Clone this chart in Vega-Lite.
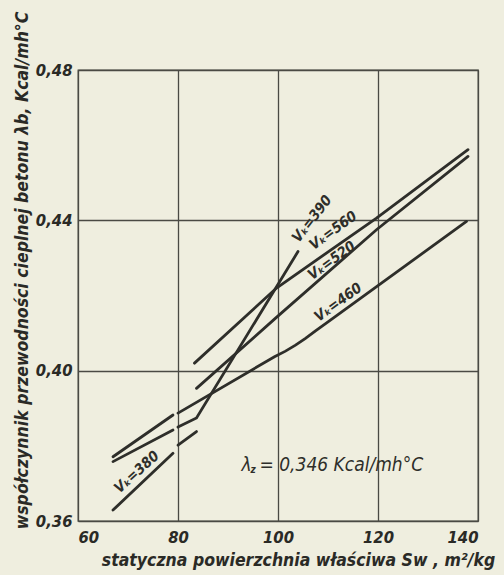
{
  "$schema": "https://vega.github.io/schema/vega-lite/v6.json",
  "autosize": {"type": "none"},
  "padding": {"left": 78, "top": 70, "right": 26, "bottom": 54},
  "width": 400,
  "height": 451,
  "background": "#efeedf",
  "config": {
    "view": {"stroke": "#4a4a44", "strokeWidth": 1.3},
    "font": "DejaVu Sans Condensed",
    "axis": {
      "labelFont": "DejaVu Sans Condensed", "labelFontStyle": "italic", "labelFontWeight": "bold", "labelFontSize": 16.5, "labelColor": "#2a2a26",
      "titleFont": "DejaVu Sans Condensed", "titleFontStyle": "italic", "titleFontWeight": "bold", "titleColor": "#2a2a26",
      "gridColor": "#4a4a44", "gridOpacity": 1, "gridWidth": 1.3, "ticks": false, "domain": false
    }
  },
  "datasets": {
    "curves": [
      {"seg": "460a", "x": 67.0, "y": 0.3771}, {"seg": "460a", "x": 79.0, "y": 0.3882},
      {"seg": "460b", "x": 80.0, "y": 0.3887}, {"seg": "460b", "x": 99.3, "y": 0.4037},
      {"seg": "460b", "x": 101.5, "y": 0.4052}, {"seg": "460b", "x": 103.5, "y": 0.4068}, {"seg": "460b", "x": 105.5, "y": 0.4086},
      {"seg": "460b", "x": 107.5, "y": 0.4106}, {"seg": "460b", "x": 110.0, "y": 0.4130}, {"seg": "460b", "x": 137.7, "y": 0.4397},
      {"seg": "390a", "x": 67.0, "y": 0.3758}, {"seg": "390a", "x": 79.0, "y": 0.3842},
      {"seg": "390b", "x": 80.0, "y": 0.3850}, {"seg": "390b", "x": 83.7, "y": 0.3874}, {"seg": "390b", "x": 104.0, "y": 0.4317},
      {"seg": "380a", "x": 67.0, "y": 0.3629}, {"seg": "380a", "x": 79.0, "y": 0.3780},
      {"seg": "380b", "x": 80.0, "y": 0.3802}, {"seg": "380b", "x": 83.7, "y": 0.3838},
      {"seg": "560", "x": 83.3, "y": 0.4020}, {"seg": "560", "x": 99.7, "y": 0.4220}, {"seg": "560", "x": 119.7, "y": 0.4406}, {"seg": "560", "x": 138.0, "y": 0.4588},
      {"seg": "520", "x": 83.7, "y": 0.3953}, {"seg": "520", "x": 99.8, "y": 0.4143}, {"seg": "520", "x": 119.7, "y": 0.4375}, {"seg": "520", "x": 138.0, "y": 0.4570}
    ],
    "labels": [
      {"t": "Vₖ=390", "g": "steep", "x": 106.9, "y": 0.4403},
      {"t": "Vₖ=560", "g": "flat", "x": 111.1, "y": 0.4372},
      {"t": "Vₖ=520", "g": "flat", "x": 110.8, "y": 0.4292},
      {"t": "Vₖ=460", "g": "flat", "x": 112.1, "y": 0.4181},
      {"t": "Vₖ=380", "g": "mid", "x": 71.8, "y": 0.3729}
    ]
  },
  "layer": [
    {
      "data": {"name": "curves"},
      "mark": {"type": "line", "color": "#2e2e2a", "strokeWidth": 2.8, "interpolate": "linear", "strokeCap": "round"},
      "encoding": {
        "x": {"field": "x", "type": "quantitative", "scale": {"domain": [60, 140], "nice": false},
          "axis": {"values": [60, 80, 100, 120, 140], "grid": true, "labelPadding": 8,
            "title": "statyczna powierzchnia właściwa Sw , m²/kg", "titleFontSize": 17.5,
            "titleX": 220, "titleY": 39, "titleAnchor": null, "titleAlign": "center", "titleBaseline": "middle"}},
        "y": {"field": "y", "type": "quantitative", "scale": {"domain": [0.36, 0.48], "nice": false, "zero": false},
          "axis": {"values": [0.36, 0.40, 0.44, 0.48], "grid": true, "labelPadding": 6,
            "labelExpr": "replace(format(datum.value, '.2f'), '.', ',')",
            "title": "współczynnik przewodności cieplnej betonu λb, Kcal/mh°C", "titleFontSize": 17.5,
            "titleX": -56, "titleY": 200, "titleAngle": 270, "titleAlign": "center", "titleBaseline": "middle"}},
        "detail": {"field": "seg"}
      }
    },
    {
      "data": {"name": "labels"},
      "transform": [{"filter": "datum.g === 'flat'"}],
      "mark": {"type": "text", "angle": -36, "fontSize": 14.5, "fontStyle": "italic", "fontWeight": "bold", "font": "DejaVu Sans Condensed", "color": "#2e2e2a", "align": "center", "baseline": "middle"},
      "encoding": {"x": {"field": "x", "type": "quantitative"}, "y": {"field": "y", "type": "quantitative"}, "text": {"field": "t"}}
    },
    {
      "data": {"name": "labels"},
      "transform": [{"filter": "datum.g === 'steep'"}],
      "mark": {"type": "text", "angle": -52, "fontSize": 14.5, "fontStyle": "italic", "fontWeight": "bold", "font": "DejaVu Sans Condensed", "color": "#2e2e2a", "align": "center", "baseline": "middle"},
      "encoding": {"x": {"field": "x", "type": "quantitative"}, "y": {"field": "y", "type": "quantitative"}, "text": {"field": "t"}}
    },
    {
      "data": {"name": "labels"},
      "transform": [{"filter": "datum.g === 'mid'"}],
      "mark": {"type": "text", "angle": -42, "fontSize": 14.5, "fontStyle": "italic", "fontWeight": "bold", "font": "DejaVu Sans Condensed", "color": "#2e2e2a", "align": "center", "baseline": "middle"},
      "encoding": {"x": {"field": "x", "type": "quantitative"}, "y": {"field": "y", "type": "quantitative"}, "text": {"field": "t"}}
    },
    {
      "data": {"values": [{"t": "λ", "x": 92.7, "y": 0.3749}]},
      "mark": {"type": "text", "fontSize": 19, "fontStyle": "italic", "font": "DejaVu Sans Condensed", "color": "#2e2e2a", "align": "left", "baseline": "middle"},
      "encoding": {"x": {"field": "x", "type": "quantitative"}, "y": {"field": "y", "type": "quantitative"}, "text": {"field": "t"}}
    },
    {
      "data": {"values": [{"t": "z", "x": 94.5, "y": 0.3737}]},
      "mark": {"type": "text", "fontSize": 10, "fontStyle": "italic", "fontWeight": "bold", "font": "DejaVu Sans Condensed", "color": "#2e2e2a", "align": "left", "baseline": "middle"},
      "encoding": {"x": {"field": "x", "type": "quantitative"}, "y": {"field": "y", "type": "quantitative"}, "text": {"field": "t"}}
    },
    {
      "data": {"values": [{"t": "= 0,346 Kcal/mh°C", "x": 96.3, "y": 0.3749}]},
      "mark": {"type": "text", "fontSize": 19, "fontStyle": "italic", "font": "DejaVu Sans Condensed", "color": "#2e2e2a", "align": "left", "baseline": "middle"},
      "encoding": {"x": {"field": "x", "type": "quantitative"}, "y": {"field": "y", "type": "quantitative"}, "text": {"field": "t"}}
    }
  ]
}
